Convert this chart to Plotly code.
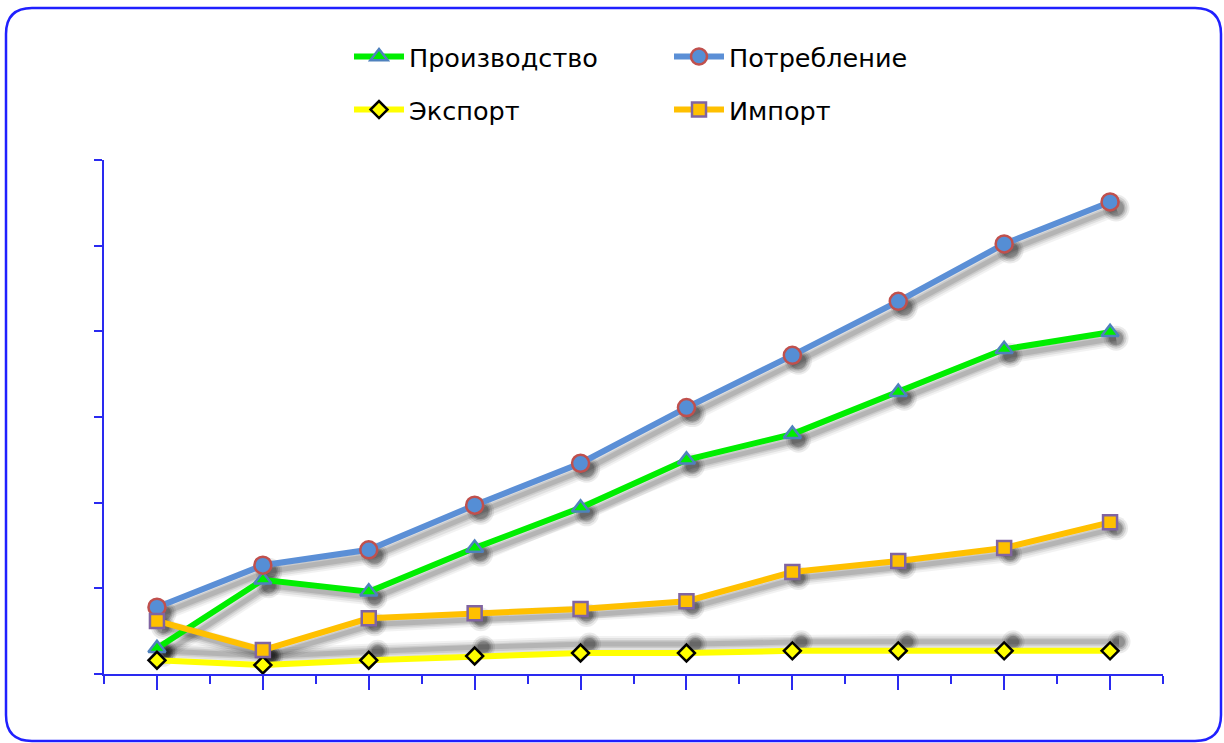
import plotly.graph_objects as go

categories = list(range(10))
production = [3.0, 11.0, 9.6, 14.7, 19.4, 25.0, 28.0, 32.9, 37.9, 39.9]
consumption = [7.8, 12.7, 14.5, 19.7, 24.6, 31.1, 37.2, 43.5, 50.2, 55.1]
export = [1.6, 1.05, 1.6, 2.1, 2.45, 2.45, 2.7, 2.7, 2.7, 2.7]
imports = [6.2, 2.8, 6.5, 7.1, 7.6, 8.5, 11.9, 13.2, 14.7, 17.7]

W, H = 1224, 743
L, R, T, B = 104, 1163, 160, 674
PW, PH = R - L, B - T
XR = [-0.5, 9.5]
YR = [0, 60]
xu = (XR[1] - XR[0]) / PW
yu = (YR[1] - YR[0]) / PH

fig = go.Figure()

series = [
    ("Производство", production, "#00ee00", "triangle-up", "#00ee00", "#4f81bd", 15, "legend"),
    ("Потребление", consumption, "#5b8fd6", "circle", "#558ed5", "#c0504d", 17, "legend"),
    ("Экспорт", export, "#ffff00", "diamond", "#ffff00", "#000000", 13, "legend2"),
    ("Импорт", imports, "#ffc000", "square", "#ffc000", "#8064a2", 14, "legend2"),
]

# shadows
for name, vals, lc, sym, fc, bc, sz, lg in series:
    xa, ya = ("x2", "y2") if name == "Экспорт" else ("x", "y")
    for w, a in [(16, 0.05), (12, 0.07), (8, 0.09), (5, 0.11)]:
        fig.add_trace(go.Scatter(
            x=categories, y=vals, xaxis=xa, yaxis=ya, mode="lines+markers",
            line=dict(color=f"rgba(0,0,0,{a})", width=w),
            marker=dict(symbol="circle", size=sz + w - 6, color=f"rgba(0,0,0,{a * 1.6})"),
            showlegend=False, hoverinfo="skip"))

for name, vals, lc, sym, fc, bc, sz, lg in series:
    fig.add_trace(go.Scatter(
        x=categories, y=vals, name=name, xaxis="x3", yaxis="y3",
        mode="lines+markers", legend=lg,
        line=dict(color=lc, width=6),
        marker=dict(symbol=sym, size=sz, color=fc, line=dict(color=bc, width=2.5))))

dx, dy = 6, 6
ex_dx, ex_dy = 9, -9
hidden = dict(showgrid=False, zeroline=False, showline=False, showticklabels=False, ticks="")
axcol = "#2a2af0"

leg_common = dict(orientation="h", xanchor="left", yanchor="middle",
                  entrywidth=255, entrywidthmode="pixels", itemwidth=50,
                  bgcolor="rgba(0,0,0,0)", font=dict(size=25.5))

fig.update_layout(
    width=W, height=H,
    margin=dict(l=L, r=W - R, t=T, b=H - B, autoexpand=False),
    paper_bgcolor="white", plot_bgcolor="white",
    font=dict(family="DejaVu Sans", size=25.5, color="#000000"),
    xaxis=dict(range=[XR[0] - dx * xu, XR[1] - dx * xu], **hidden),
    yaxis=dict(range=[YR[0] + dy * yu, YR[1] + dy * yu], **hidden),
    xaxis2=dict(range=[XR[0] - ex_dx * xu, XR[1] - ex_dx * xu], overlaying="x", anchor="y2", **hidden),
    yaxis2=dict(range=[YR[0] + ex_dy * yu, YR[1] + ex_dy * yu], overlaying="y", anchor="x2", **hidden),
    xaxis3=dict(range=XR, overlaying="x", anchor="y3", showgrid=False, zeroline=False,
                showline=True, linecolor=axcol, linewidth=2, showticklabels=False,
                tickmode="linear", tick0=0, dtick=1, ticks="outside", ticklen=14,
                tickcolor=axcol, tickwidth=2,
                minor=dict(ticks="outside", ticklen=8, tick0=0.5, dtick=1,
                           tickcolor=axcol, tickwidth=2)),
    yaxis3=dict(range=YR, overlaying="y", anchor="x3", showgrid=False, zeroline=False,
                showline=True, linecolor=axcol, linewidth=2, showticklabels=False,
                tickmode="linear", tick0=0, dtick=10, ticks="outside", ticklen=8,
                tickcolor=axcol, tickwidth=2),
    legend=dict(x=(349 - L) / PW, y=(B - 57) / PH, **leg_common),
    legend2=dict(x=(349 - L) / PW, y=(B - 110) / PH, **leg_common),
)

# rounded frame in paper coordinates
def px(x):
    return (x - L) / PW

def py(y):
    return (B - y) / PH

x0, y0, x1, y1, r = 6, 8, 1221, 741, 26
path = (f"M {px(x0 + r)} {py(y0)} L {px(x1 - r)} {py(y0)} "
        f"Q {px(x1)} {py(y0)} {px(x1)} {py(y0 + r)} "
        f"L {px(x1)} {py(y1 - r)} Q {px(x1)} {py(y1)} {px(x1 - r)} {py(y1)} "
        f"L {px(x0 + r)} {py(y1)} Q {px(x0)} {py(y1)} {px(x0)} {py(y1 - r)} "
        f"L {px(x0)} {py(y0 + r)} Q {px(x0)} {py(y0)} {px(x0 + r)} {py(y0)} Z")
fig.add_shape(type="path", path=path, xref="paper", yref="paper",
              line=dict(color="#2020ff", width=2.5), layer="below")

fig.write_html("out.html", config={"displayModeBar": False},
               post_script="document.body.style.margin='0';document.body.style.overflow='hidden';")
